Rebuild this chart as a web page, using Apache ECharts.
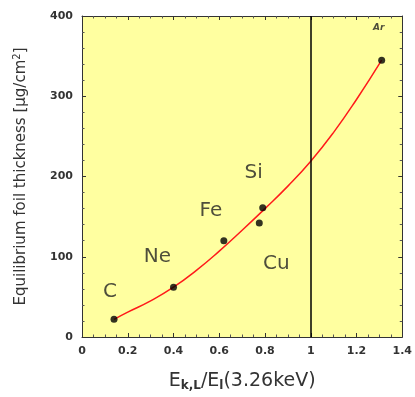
<!DOCTYPE html>
<html>
<head>
<meta charset="utf-8">
<script src="https://cdn.jsdelivr.net/npm/echarts@6/dist/echarts.min.js"></script>
<style>
  html, body { margin: 0; padding: 0; background: #fff; }
  .wrap { position: relative; width: 415px; height: 397px; }
  #plotBg { position: absolute; background: #ffffa0; z-index: 0; }
  #chart { position: absolute; left: 0; top: 0; width: 415px; height: 397px; z-index: 1; }
</style>
</head>
<body>
<div class="wrap">
  <div id="plotBg"></div>
  <div id="chart"></div>
</div>
<script>
// measured points (x = E_k,L / E_l, y = thickness in ug/cm2)
var elements = ["C", "Ne", "Fe", "Cu", "Si", "Ar"];
var ratioX = [0.14, 0.40, 0.62, 0.775, 0.79, 1.31];
var thickY = [22, 62, 120, 142, 161, 345];

// fitted red curve
var fitX = [0.14, 0.2, 0.3, 0.4, 0.5, 0.6, 0.7, 0.8, 0.9, 1.0, 1.1, 1.2, 1.31];
var fitY = [22, 31, 45, 62, 83, 107, 133, 160, 188, 219, 255, 296, 345];

var xTicks = [0, 0.2, 0.4, 0.6, 0.8, 1, 1.2, 1.4];
var yTicks = [0, 100, 200, 300, 400];
var refLineX = 1;
var xMax = 1.4, yMax = 400;

// label placement for each element (px, relative to the point)
var labelOffsets = {
  C: [-4, -28], Ne: [-16, -30], Fe: [-13, -30],
  Cu: [17, 41], Si: [-9, -35], Ar: [-3, -32]
};

var chart = echarts.init(document.getElementById("chart"));
var font = "DejaVu Sans, Verdana, sans-serif";

function axisStyle(extra) {
  return Object.assign({
    axisLine: { show: true, onZero: false, lineStyle: { color: "#333", width: 1 } },
    axisTick: { show: true, inside: true, length: 4, lineStyle: { color: "#333" } },
    minorTick: { show: true, splitNumber: 4, length: 2.5, lineStyle: { color: "#555" } },
    splitLine: { show: false }
  }, extra);
}

var option = {
  animation: false,
  backgroundColor: "transparent",
  grid: { left: 82, right: 9, top: 16, bottom: 60 },
  xAxis: [
    axisStyle({
      type: "value", min: 0, max: xMax, interval: 0.2,
      axisLabel: {
        color: "#333", fontSize: 11, fontWeight: "bold", fontFamily: font, margin: 9,
        formatter: function (v) { return xTicks.indexOf(+v.toFixed(1)) >= 0 ? String(+v.toFixed(1)) : ""; }
      },
      name: "{e|E}{s|k,L}{e|/E}{s|l}{e|(3.26keV)}",
      nameLocation: "middle", nameGap: 34,
      nameTextStyle: {
        rich: {
          e: { fontSize: 19, color: "#333", fontFamily: font },
          s: { fontSize: 12, fontWeight: "bold", color: "#333", fontFamily: font, verticalAlign: "bottom", padding: [9, 0, 0, 0] }
        }
      }
    }),
    axisStyle({
      type: "value", min: 0, max: xMax, interval: 0.2, position: "top",
      axisLabel: { show: false }
    })
  ],
  yAxis: [
    axisStyle({
      type: "value", min: 0, max: yMax, interval: 100,
      minorTick: { show: true, splitNumber: 5, length: 2.5, lineStyle: { color: "#555" } },
      axisLabel: { color: "#333", fontSize: 11, fontWeight: "bold", fontFamily: font, margin: 9 },
      name: "{t|Equilibrium foil thickness [μg/cm}{p|2}{t|]}",
      nameLocation: "middle", nameGap: 52,
      nameTextStyle: {
        rich: {
          t: { fontSize: 15, color: "#333", fontFamily: font },
          p: { fontSize: 10, color: "#333", fontFamily: font, verticalAlign: "top", padding: [0, 0, 8, 0] }
        }
      }
    }),
    axisStyle({
      type: "value", min: 0, max: yMax, interval: 100, position: "right",
      minorTick: { show: true, splitNumber: 5, length: 2.5, lineStyle: { color: "#555" } },
      axisLabel: { show: false }
    })
  ],
  series: [
    {
      type: "line",
      data: fitX.map(function (x, i) { return [x, fitY[i]]; }),
      smooth: true,
      symbol: "none",
      lineStyle: { color: "#ff1a1a", width: 1.5 },
      z: 2,
      markLine: {
        silent: true,
        symbol: "none",
        label: { show: false },
        lineStyle: { color: "#000", width: 1.5, type: "solid" },
        data: [{ xAxis: refLineX }]
      }
    },
    {
      type: "scatter",
      data: ratioX.map(function (x, i) { return { name: elements[i], value: [x, thickY[i]] }; }),
      symbolSize: 7,
      itemStyle: { color: "#000" },
      z: 3,
      label: {
        show: true,
        position: "inside",
        color: "#222",
        fontFamily: font,
        fontSize: 20,
        formatter: function (p) { return p.name; }
      },
      labelLayout: function (p) {
        var name = elements[p.dataIndex];
        var off = labelOffsets[name];
        return {
          x: p.rect.x + p.rect.width / 2 + off[0],
          y: p.rect.y + p.rect.height / 2 + off[1],
          align: "center",
          verticalAlign: "middle"
        };
      }
    }
  ]
};

// Ar label is small italic
option.series[1].data[5].label = { fontSize: 9, fontStyle: "italic", fontWeight: "bold" };

chart.setOption(option);

// yellow plot background sits under the canvas, sized from the axes
var p0 = chart.convertToPixel({ gridIndex: 0 }, [0, yMax]);
var p1 = chart.convertToPixel({ gridIndex: 0 }, [xMax, 0]);
var bg = document.getElementById("plotBg");
bg.style.left = p0[0] + "px";
bg.style.top = p0[1] + "px";
bg.style.width = (p1[0] - p0[0]) + "px";
bg.style.height = (p1[1] - p0[1]) + "px";
</script>
</body>
</html>
